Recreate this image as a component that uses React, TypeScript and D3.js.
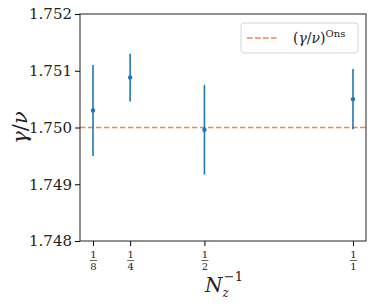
import React, { useEffect, useRef } from "react";
import * as d3 from "d3";

const nzInv = [0.125, 0.25, 0.5, 1];
const tickLabels = ["8", "4", "2", "1"];
const gammaNu = [1.7503, 1.75088, 1.74996, 1.7505];
const errors = [0.0008, 0.00042, 0.00079, 0.00053];
const onsager = 1.75;
const yTicks = [1.748, 1.749, 1.75, 1.751, 1.752];

export default function App() {
  const ref = useRef<SVGSVGElement>(null);
  const width = 374;
  const height = 306;

  useEffect(() => {
    const margin = { top: 14, right: 8, bottom: 65, left: 80 };
    const svg = d3.select(ref.current).attr("width", width).attr("height", height);
    svg.selectAll("*").remove();
    const font = "DejaVu Serif, serif";

    const x = d3
      .scaleLinear()
      .domain([0.08125, 1.04375])
      .range([margin.left, width - margin.right]);
    const y = d3
      .scaleLinear()
      .domain([1.748, 1.752])
      .range([height - margin.bottom, margin.top]);

    // y axis
    const yAxis = svg
      .append("g")
      .attr("transform", `translate(${margin.left},0)`)
      .call(d3.axisLeft(y).tickValues(yTicks).tickFormat(d3.format(".3f")).tickSize(5).tickPadding(3));
    yAxis.select(".domain").remove();
    yAxis.selectAll("text").attr("font-family", font).attr("font-size", 15).attr("fill", "#222");

    // x axis
    const xAxis = svg
      .append("g")
      .attr("transform", `translate(0,${height - margin.bottom})`)
      .call(d3.axisBottom(x).tickValues(nzInv).tickFormat(() => "").tickSize(5));
    xAxis.select(".domain").remove();
    xAxis.selectAll<SVGGElement, number>(".tick").each(function (d, i) {
      const g = d3.select(this);
      g.append("text").attr("y", 17).attr("text-anchor", "middle").attr("font-family", font).attr("font-size", 10).attr("fill", "#222").text("1");
      g.append("line").attr("x1", -3.5).attr("x2", 3.5).attr("y1", 19.5).attr("y2", 19.5).attr("stroke", "#222").attr("stroke-width", 0.7);
      g.append("text").attr("y", 29).attr("text-anchor", "middle").attr("font-family", font).attr("font-size", 10).attr("fill", "#222").text(tickLabels[i]);
    });

    // onsager line
    svg
      .append("line")
      .attr("x1", margin.left)
      .attr("x2", width - margin.right)
      .attr("y1", y(onsager))
      .attr("y2", y(onsager))
      .attr("stroke", "#ff7f50")
      .attr("stroke-width", 1.5)
      .attr("stroke-dasharray", "5.5,2.5");

    // error bars
    nzInv.forEach((v, i) => {
      svg
        .append("line")
        .attr("x1", x(v))
        .attr("x2", x(v))
        .attr("y1", y(gammaNu[i] - errors[i]))
        .attr("y2", y(gammaNu[i] + errors[i]))
        .attr("stroke", "#1f77b4")
        .attr("stroke-width", 1.6);
      svg.append("circle").attr("cx", x(v)).attr("cy", y(gammaNu[i])).attr("r", 2.2).attr("fill", "#1f77b4");
    });

    // frame
    svg
      .append("rect")
      .attr("x", margin.left)
      .attr("y", margin.top)
      .attr("width", width - margin.left - margin.right)
      .attr("height", height - margin.top - margin.bottom)
      .attr("fill", "none")
      .attr("stroke", "#222")
      .attr("stroke-width", 1);

    // legend
    const lg = svg.append("g");
    lg.append("rect")
      .attr("x", 241)
      .attr("y", 23)
      .attr("width", 117)
      .attr("height", 30)
      .attr("rx", 3)
      .attr("fill", "#fff")
      .attr("stroke", "#d6d6d6");
    lg.append("line")
      .attr("x1", 247)
      .attr("x2", 279)
      .attr("y1", 38)
      .attr("y2", 38)
      .attr("stroke", "#ff7f50")
      .attr("stroke-width", 1.5)
      .attr("stroke-dasharray", "5.5,2.5");
    const lt = lg.append("text").attr("x", 293).attr("y", 43).attr("font-family", font).attr("font-size", 14).attr("fill", "#222");
    lt.append("tspan").text("(");
    lt.append("tspan").attr("font-style", "italic").text("γ");
    lt.append("tspan").text("/");
    lt.append("tspan").attr("font-style", "italic").text("ν");
    lt.append("tspan").text(")");
    lt.append("tspan").attr("font-size", 10).attr("dy", -6).text("Ons");

    // axis labels
    const yl = svg
      .append("text")
      .attr("transform", `translate(27,${(margin.top + height - margin.bottom) / 2}) rotate(-90)`)
      .attr("text-anchor", "middle")
      .attr("font-family", font)
      .attr("font-size", 21)
      .attr("fill", "#222");
    yl.append("tspan").attr("font-style", "italic").text("γ");
    yl.append("tspan").text("/");
    yl.append("tspan").attr("font-style", "italic").text("ν");

    const xl = svg
      .append("text")
      .attr("x", 205)
      .attr("y", 292)
      .attr("font-family", font)
      .attr("font-size", 20)
      .attr("fill", "#222");
    xl.append("tspan").attr("font-style", "italic").text("N");
    xl.append("tspan").attr("font-style", "italic").attr("font-size", 12).attr("dy", 5).text("z");
    xl.append("tspan").attr("font-size", 13).attr("dx", -5).attr("dy", -16).text("−1");
  }, []);

  return <svg ref={ref} style={{ position: "absolute", left: 0, top: 0 }} />;
}
